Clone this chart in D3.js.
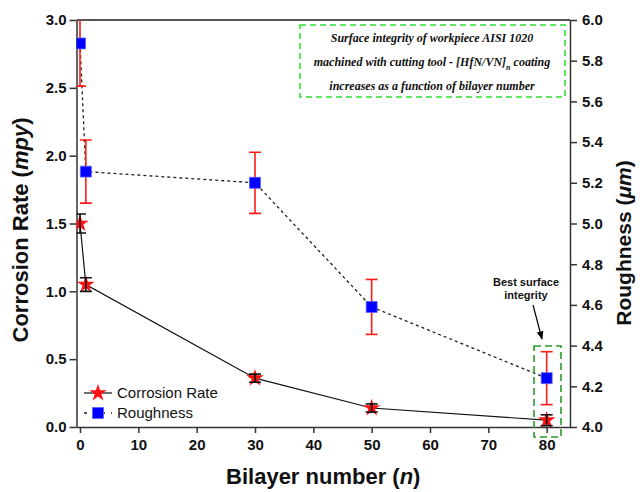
<!DOCTYPE html>
<html><head><meta charset="utf-8">
<script src="https://cdn.jsdelivr.net/npm/d3@7"></script>
<style>body{margin:0;background:#fff}svg{display:block}</style>
</head><body><svg id="c" width="643" height="492"></svg>
<script>
const bilayers = [0, 1, 30, 50, 80];
const corrosion = [1.50, 1.05, 0.36, 0.14, 0.05];
const corrosionErr = [0.07, 0.05, 0.03, 0.03, 0.04];
const roughX = [0, 1, 30, 50, 80];
const roughness = [5.885, 5.255, 5.20, 4.59, 4.24];
const roughErr = [0.21, 0.155, 0.15, 0.135, 0.13];
const xTicks = [0, 10, 20, 30, 40, 50, 60, 70, 80];
const yLeftTicks = [0, 0.5, 1.0, 1.5, 2.0, 2.5, 3.0];
const yRightTicks = [4.0, 4.2, 4.4, 4.6, 4.8, 5.0, 5.2, 5.4, 5.6, 5.8, 6.0];
const noteLines = ["Surface integrity of workpiece AISI 1020", "machined with cutting tool - [HfN/VN]", "increases as a function of bilayer number"];

const L = 76.5, R = 570, T = 20, B = 427;
const svg = d3.select("#c");
const x = d3.scaleLinear().domain([-0.6, 84]).range([L, R]);
const yL = d3.scaleLinear().domain([0, 3]).range([B, T]);
const yR = d3.scaleLinear().domain([4, 6]).range([B, T]);
const axisCol = "#333";

svg.append("defs").append("clipPath").attr("id", "clip")
  .append("rect").attr("x", L).attr("y", T).attr("width", R - L).attr("height", B - T);
svg.select("defs").append("marker").attr("id", "arr").attr("viewBox", "0 0 10 10")
  .attr("refX", 9).attr("refY", 5).attr("markerWidth", 7).attr("markerHeight", 7).attr("orient", "auto")
  .append("path").attr("d", "M0,1 L10,5 L0,9 Z").attr("fill", "#000");

// axes
const fontTick = "bold 15px Arial, 'Liberation Sans', sans-serif";
const gx = svg.append("g").attr("transform", `translate(0,${B})`)
  .call(d3.axisBottom(x).tickValues(xTicks).tickFormat(d3.format("d")).tickSize(6).tickSizeOuter(0).tickPadding(6));
const gl = svg.append("g").attr("transform", `translate(${L},0)`)
  .call(d3.axisLeft(yL).tickValues(yLeftTicks).tickFormat(d3.format(".1f")).tickSize(7).tickSizeOuter(0).tickPadding(3));
const gr = svg.append("g").attr("transform", `translate(${R},0)`)
  .call(d3.axisRight(yR).tickValues(yRightTicks).tickFormat(d3.format(".1f")).tickSize(7).tickSizeOuter(0).tickPadding(5));
[gx, gl, gr].forEach(g => {
  g.selectAll("path,line").attr("stroke", axisCol).attr("stroke-width", 1.5);
  g.selectAll("text").style("font", fontTick).attr("fill", "#111");
});
svg.append("line").attr("x1", L).attr("x2", R).attr("y1", T).attr("y2", T)
  .attr("stroke", "#555").attr("stroke-width", 2);

// axis titles
const titleFont = "bold 22px Arial, 'Liberation Sans', sans-serif";
const tx = svg.append("text").attr("x", (L + R) / 2).attr("y", 484).attr("text-anchor", "middle").style("font", titleFont).attr("fill", "#111");
tx.append("tspan").text("Bilayer number (");
tx.append("tspan").style("font-style", "italic").text("n");
tx.append("tspan").text(")");
const tl = svg.append("text").attr("transform", "translate(28,230) rotate(-90)").attr("text-anchor", "middle").style("font", titleFont).attr("fill", "#111");
tl.append("tspan").text("Corrosion Rate (");
tl.append("tspan").style("font-style", "italic").text("mpy");
tl.append("tspan").text(")");
const tr = svg.append("text").attr("transform", "translate(624,243) rotate(-90)").attr("text-anchor", "middle").attr("dy", "0.35em").style("font", "bold 21px Arial, 'Liberation Sans', sans-serif").attr("fill", "#111");
tr.append("tspan").text("Roughness (");
tr.append("tspan").style("font-style", "italic").text("μm");
tr.append("tspan").text(")");

const plot = svg.append("g").attr("clip-path", "url(#clip)");

// roughness dotted line
plot.append("path").datum(roughX.map((d, i) => [d, roughness[i]]))
  .attr("d", d3.line().x(d => x(d[0])).y(d => yR(d[1])))
  .attr("fill", "none").attr("stroke", "#222").attr("stroke-width", 1.3).attr("stroke-dasharray", "3,3");
// corrosion solid line
plot.append("path").datum(bilayers.map((d, i) => [d, corrosion[i]]))
  .attr("d", d3.line().x(d => x(d[0])).y(d => yL(d[1])))
  .attr("fill", "none").attr("stroke", "#111").attr("stroke-width", 1.2);

// error bars
function errBars(xs, ys, es, sc, col) {
  const g = plot.append("g").attr("stroke", col).attr("stroke-width", 1.6);
  xs.forEach((xv, i) => {
    const cx = x(xv), y1 = sc(ys[i] + es[i]), y2 = sc(ys[i] - es[i]);
    g.append("line").attr("x1", cx).attr("x2", cx).attr("y1", y1).attr("y2", y2);
    g.append("line").attr("x1", cx - 6).attr("x2", cx + 6).attr("y1", y1).attr("y2", y1);
    g.append("line").attr("x1", cx - 6).attr("x2", cx + 6).attr("y1", y2).attr("y2", y2);
  });
}
errBars(roughX, roughness, roughErr, yR, "#ff1a1a");

// markers
const star = d3.symbol().type(d3.symbolStar).size(95);
const sq = d3.symbol().type(d3.symbolSquare).size(120);
plot.selectAll(".st").data(bilayers).join("path").attr("class", "st")
  .attr("transform", (d, i) => `translate(${x(d)},${yL(corrosion[i])})`)
  .attr("d", star).attr("fill", "#ff1010");
errBars(bilayers, corrosion, corrosionErr, yL, "#111");
plot.selectAll(".sq").data(roughX).join("path").attr("class", "sq")
  .attr("transform", (d, i) => `translate(${x(d)},${yR(roughness[i])})`)
  .attr("d", sq).attr("fill", "#0000ff").attr("stroke", "#5a5aff").attr("stroke-width", 0.8);

// legend
const lg = svg.append("g");
const legFont = "15px Arial, 'Liberation Sans', sans-serif";
lg.append("line").attr("x1", 84).attr("x2", 112).attr("y1", 393).attr("y2", 393).attr("stroke", "#111").attr("stroke-width", 1.2);
lg.append("path").attr("transform", "translate(98,393)").attr("d", star).attr("fill", "#ff1010");
lg.append("text").attr("x", 117).attr("y", 393).attr("dy", "0.35em").style("font", legFont).attr("fill", "#111").text("Corrosion Rate");
lg.append("line").attr("x1", 84).attr("x2", 112).attr("y1", 413).attr("y2", 413).attr("stroke", "#222").attr("stroke-width", 1.3).attr("stroke-dasharray", "3,6");
lg.append("path").attr("transform", "translate(98,413)").attr("d", sq).attr("fill", "#0000ff").attr("stroke", "#5a5aff").attr("stroke-width", 0.8);
lg.append("text").attr("x", 117).attr("y", 413).attr("dy", "0.35em").style("font", legFont).attr("fill", "#111").text("Roughness");

// note box
svg.append("rect").attr("x", 300).attr("y", 25).attr("width", 265).attr("height", 72)
  .attr("fill", "#fff").attr("stroke", "#33e033").attr("stroke-width", 1.6).attr("stroke-dasharray", "6,4");
const noteFont = "italic bold 12px 'Liberation Serif', 'Times New Roman', serif";
const ny = [38, 62, 86];
noteLines.forEach((t, i) => {
  const te = svg.append("text").attr("x", 432).attr("y", ny[i]).attr("dy", "0.35em").attr("text-anchor", "middle")
    .style("font", noteFont).attr("fill", "#111");
  te.append("tspan").text(t);
  if (i === 1) {
    te.append("tspan").attr("dy", "4").style("font-size", "8px").text("n");
    te.append("tspan").attr("dy", "-4").text(" coating");
  }
});

// best surface annotation
svg.append("rect").attr("x", 534).attr("y", 346).attr("width", 27).attr("height", 91)
  .attr("fill", "none").attr("stroke", "#2a9a2a").attr("stroke-width", 1.6).attr("stroke-dasharray", "7,4");
const annFont = "bold 11px Arial, 'Liberation Sans', sans-serif";
svg.append("text").attr("x", 526).attr("y", 282).attr("dy", "0.35em").attr("text-anchor", "middle").style("font", annFont).attr("fill", "#111").text("Best surface");
svg.append("text").attr("x", 526).attr("y", 295).attr("dy", "0.35em").attr("text-anchor", "middle").style("font", annFont).attr("fill", "#111").text("integrity");
svg.append("line").attr("x1", 533).attr("y1", 305).attr("x2", 542).attr("y2", 339)
  .attr("stroke", "#000").attr("stroke-width", 1.2).attr("marker-end", "url(#arr)");
</script></body></html>
